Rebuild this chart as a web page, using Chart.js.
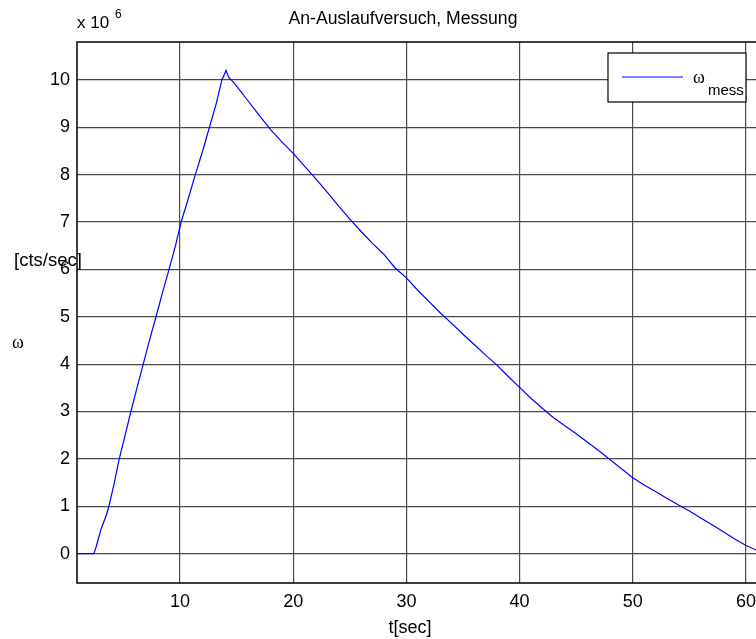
<!DOCTYPE html>
<html>
<head>
<meta charset="utf-8">
<script src="https://cdn.jsdelivr.net/npm/chart.js@4.4.1/dist/chart.umd.min.js"></script>
<style>
  html, body { margin: 0; padding: 0; background: #fff; overflow: hidden; }
  #wrap { width: 760px; height: 639px; position: relative; }
</style>
</head>
<body>
<div id="wrap"><canvas id="omegaChart" width="760" height="639"></canvas></div>
<script>
// Messwerte An-/Auslaufversuch: Zeit in s, omega in 10^6 cts/sec
var timeSec = [0.9, 2.4, 2.6, 3.0, 3.5, 3.72, 4.2, 4.63, 5.1, 5.66, 6.2, 6.75, 7.3, 7.88, 8.5, 9.03,
    9.6, 10.1, 10.7, 11.35, 12.0, 12.6, 13.2, 13.7, 14.07, 14.3, 14.7,
    15, 16, 17, 18, 19, 20, 21, 22, 23, 24, 25, 26, 27, 28, 29, 30, 31, 32, 33, 34, 35, 36, 37,
    38, 39, 40, 41, 42, 43, 44, 45, 46, 47, 48, 49, 50, 51, 52, 53, 54, 55, 56, 57, 58, 59, 60, 60.97];
var omegaMess = [0, 0, 0.15, 0.5, 0.82, 1.0, 1.5, 2.0, 2.45, 3.0, 3.5, 4.0, 4.5, 5.0, 5.55, 6.0,
    6.5, 7.0, 7.47, 8.0, 8.5, 9.0, 9.5, 10.0, 10.2, 10.05, 9.96,
    9.87, 9.56, 9.25, 8.95, 8.69, 8.45, 8.18, 7.91, 7.63, 7.34, 7.06, 6.8, 6.55, 6.32, 6.03, 5.82,
    5.56, 5.32, 5.08, 4.86, 4.63, 4.41, 4.19, 3.98, 3.74, 3.51, 3.28, 3.07, 2.87, 2.70, 2.53, 2.35,
    2.17, 1.98, 1.79, 1.60, 1.45, 1.31, 1.17, 1.03, 0.9, 0.75, 0.61, 0.46, 0.31, 0.17, 0.07];
var xTicks = [10, 20, 30, 40, 50, 60];
var yTicks = [0, 1, 2, 3, 4, 5, 6, 7, 8, 9, 10];

var points = timeSec.map(function(t, i) {
    return { x: t, y: omegaMess[i] };
});

var FONT = '"Liberation Sans", Arial, sans-serif';

// Rahmen, Beschriftungen und Legende im MATLAB-Stil
var axesDecor = {
    id: 'axesDecor',
    afterDraw: function(chart) {
        var ctx = chart.ctx;
        var a = chart.chartArea;
        ctx.save();
        ctx.strokeStyle = '#000';
        ctx.lineWidth = 1.5;
        ctx.strokeRect(a.left, a.top, a.right - a.left, a.bottom - a.top);

        ctx.fillStyle = '#000';
        ctx.textBaseline = 'alphabetic';

        // Titel
        ctx.font = '17.6px ' + FONT;
        ctx.textAlign = 'center';
        ctx.fillText('An-Auslaufversuch, Messung', 403, 24);

        // Exponent
        ctx.textAlign = 'left';
        ctx.font = '17px ' + FONT;
        ctx.fillText('x 10', 77, 28);
        ctx.font = '12px ' + FONT;
        ctx.fillText('6', 115, 18);

        // Achsenbeschriftungen
        ctx.font = '18px ' + FONT;
        ctx.textAlign = 'center';
        ctx.fillText('t[sec]', 410, 633);
        ctx.textAlign = 'left';
        ctx.font = '18.5px ' + FONT;
        ctx.fillText('[cts/sec]', 14, 266);
        ctx.font = '18px "Liberation Serif", "DejaVu Serif", serif';
        ctx.fillText('\u03c9', 12, 348);

        // Legende
        ctx.fillStyle = '#fff';
        ctx.fillRect(608, 53, 138, 49);
        ctx.strokeStyle = '#000';
        ctx.lineWidth = 1.2;
        ctx.strokeRect(608, 53, 138, 49);
        ctx.strokeStyle = '#0000ff';
        ctx.lineWidth = 1;
        ctx.beginPath();
        ctx.moveTo(622, 77);
        ctx.lineTo(683, 77);
        ctx.stroke();
        ctx.fillStyle = '#000';
        ctx.font = '18px "Liberation Serif", "DejaVu Serif", serif';
        ctx.fillText('\u03c9', 693, 83);
        ctx.font = '15px ' + FONT;
        ctx.fillText('mess', 708, 95);
        ctx.restore();
    }
};

var ctx = document.getElementById('omegaChart').getContext('2d');

new Chart(ctx, {
    type: 'line',
    data: {
        datasets: [{
            label: 'omega_mess',
            data: points,
            borderColor: '#0000ff',
            borderWidth: 1.2,
            pointRadius: 0,
            fill: false,
            tension: 0
        }]
    },
    options: {
        responsive: false,
        animation: false,
        devicePixelRatio: 1,
        layout: { padding: { left: 0, top: 42, right: 3, bottom: 0 } },
        plugins: {
            legend: { display: false },
            title: { display: false },
            tooltip: { enabled: false }
        },
        scales: {
            x: {
                type: 'linear',
                min: 0.9,
                max: 60.97,
                afterBuildTicks: function(scale) {
                    scale.ticks = xTicks.map(function(v) { return { value: v }; });
                },
                afterFit: function(scale) {
                    scale.height = 56;
                    scale.paddingLeft = 0;
                    scale.paddingRight = 0;
                },
                grid: { color: '#4a4a4a', lineWidth: 1.2, tickLength: 0, drawTicks: false },
                border: { display: false },
                ticks: {
                    color: '#000',
                    padding: 8,
                    maxRotation: 0,
                    autoSkip: false,
                    font: { family: FONT, size: 18 }
                }
            },
            y: {
                type: 'linear',
                min: -0.62,
                max: 10.8,
                afterBuildTicks: function(scale) {
                    scale.ticks = yTicks.map(function(v) { return { value: v }; });
                },
                afterFit: function(scale) {
                    scale.width = 77;
                    scale.paddingTop = 0;
                    scale.paddingBottom = 0;
                },
                grid: { color: '#4a4a4a', lineWidth: 1.2, tickLength: 0, drawTicks: false },
                border: { display: false },
                ticks: {
                    color: '#000',
                    padding: 7,
                    autoSkip: false,
                    font: { family: FONT, size: 18 }
                }
            }
        }
    },
    plugins: [axesDecor]
});
</script>
</body>
</html>
